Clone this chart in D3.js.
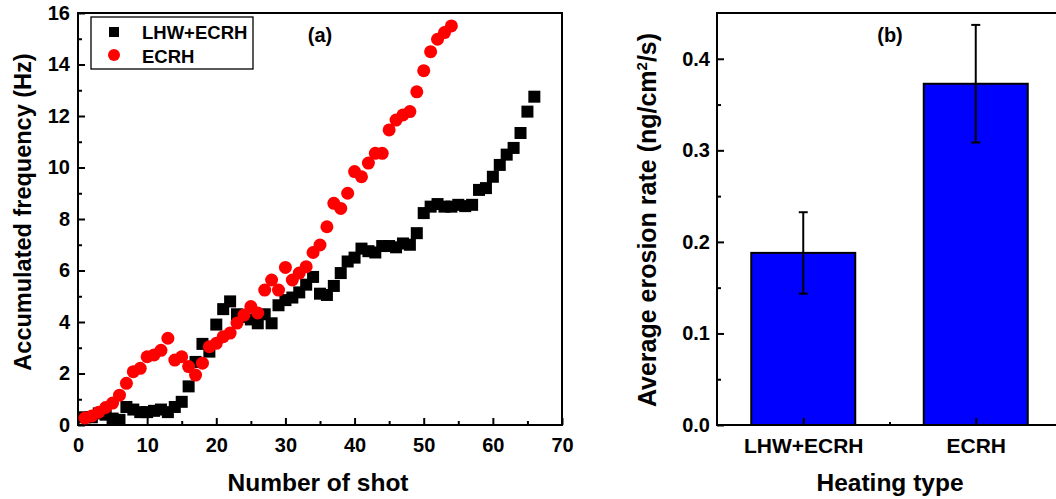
<!DOCTYPE html>
<html>
<head>
	<title>Accumulated frequency and erosion rate</title>
	<script src="https://cdnjs.cloudflare.com/ajax/libs/d3/7.8.5/d3.min.js"></script>
	<style>
		body { margin: 0; background: #fff; }
		text { font-family: Arial, "Liberation Sans", sans-serif; font-weight: bold; fill: #000; }
	</style>
</head>
<body>
	<svg id="chart" width="1056" height="499"></svg>
	<script type="text/javascript">
		// panel (a): accumulated frequency vs shot number
		const lhwEcrh = [0.3, 0.3, 0.45, 0.4, 0.25, 0.2, 0.7, 0.6, 0.5, 0.5,
			0.55, 0.6, 0.5, 0.7, 0.9, 1.5, 2.45, 3.15, 2.85, 3.9,
			4.5, 4.8, 4.3, 4.2, 4.1, 3.95, 4.3, 3.95, 4.65, 4.85,
			4.95, 5.15, 5.45, 5.75, 5.1, 5.05, 5.4, 5.9, 6.35, 6.5,
			6.85, 6.75, 6.7, 6.95, 6.95, 6.9, 7.05, 7.0, 7.45, 8.23,
			8.48, 8.58, 8.48, 8.48, 8.55, 8.5, 8.55, 9.13, 9.2, 9.64,
			10.1, 10.5, 10.76, 11.34, 12.17, 12.75];
		const ecrh = [0.27, 0.35, 0.5, 0.68, 0.85, 1.16, 1.62, 2.07, 2.2, 2.65,
			2.72, 2.9, 3.37, 2.52, 2.65, 2.27, 1.94, 2.4, 3.04, 3.17,
			3.43, 3.57, 3.96, 4.27, 4.6, 4.35, 5.24, 5.63, 5.24, 6.12,
			5.63, 5.9, 6.15, 6.7, 6.99, 7.7, 8.61, 8.41, 9.0, 9.84,
			9.64, 10.17, 10.55, 10.55, 11.46, 11.84, 12.04, 12.17, 12.94, 13.76,
			14.5, 14.98, 15.24, 15.5];
		const shotTicks = [0, 10, 20, 30, 40, 50, 60, 70];
		const freqTicks = [0, 2, 4, 6, 8, 10, 12, 14, 16];

		// panel (b): average erosion rate by heating type
		const heatingTypes = ["LHW+ECRH", "ECRH"];
		const erosionRate = [0.188, 0.3727];
		const erosionErrLow = [0.1435, 0.3085];
		const erosionErrHigh = [0.2324, 0.437];
		const rateTicks = [0.0, 0.1, 0.2, 0.3, 0.4];

		const svg = d3.select("#chart");
		const tickFont = "20px";
		const titleFont = "24.5px";

		// ---------- panel (a) ----------
		const xA = d3.scaleLinear().domain([0, 70]).range([78, 562]);
		const yA = d3.scaleLinear().domain([0, 16]).range([425, 13]);
		const gA = svg.append("g");

		gA.append("g").attr("transform", "translate(0,425)")
			.call(d3.axisBottom(xA).tickValues(d3.range(5, 70, 10)).tickSize(-4).tickFormat(""));
		gA.append("g").attr("transform", "translate(0,425)")
			.call(d3.axisBottom(xA).tickValues(shotTicks).tickSize(-7).tickPadding(13))
			.selectAll("text").style("font-size", tickFont);
		gA.append("g").attr("transform", "translate(78,0)")
			.call(d3.axisLeft(yA).tickValues(d3.range(1, 16, 2)).tickSize(-4).tickFormat(""));
		gA.append("g").attr("transform", "translate(78,0)")
			.call(d3.axisLeft(yA).tickValues(freqTicks).tickSize(-7).tickPadding(8))
			.selectAll("text").style("font-size", tickFont);
		gA.selectAll(".domain").remove();
		gA.selectAll(".tick line").attr("stroke", "#000").attr("stroke-width", 2);

		gA.append("rect")
			.attr("x", xA(0)).attr("y", yA(16))
			.attr("width", xA(70) - xA(0)).attr("height", yA(0) - yA(16))
			.attr("fill", "none").attr("stroke", "#000").attr("stroke-width", 2);

		gA.append("g").selectAll("rect").data(lhwEcrh).join("rect")
			.attr("x", (d, i) => xA(i + 1) - 6)
			.attr("y", d => yA(d) - 6)
			.attr("width", 12).attr("height", 12)
			.attr("fill", "#000");
		gA.append("g").selectAll("circle").data(ecrh).join("circle")
			.attr("cx", (d, i) => xA(i + 1))
			.attr("cy", d => yA(d))
			.attr("r", 6.5)
			.attr("fill", "#ff0000");

		// legend
		const leg = gA.append("g");
		leg.append("rect").attr("x", 91).attr("y", 17).attr("width", 162).attr("height", 52)
			.attr("fill", "#fff").attr("stroke", "#000").attr("stroke-width", 1.3);
		leg.append("rect").attr("x", 109).attr("y", 27).attr("width", 10).attr("height", 10).attr("fill", "#000");
		leg.append("circle").attr("cx", 114).attr("cy", 55).attr("r", 6).attr("fill", "#ff0000");
		leg.append("text").attr("x", 142).attr("y", 39).style("font-size", "18.5px").text("LHW+ECRH");
		leg.append("text").attr("x", 142).attr("y", 63).style("font-size", "18.5px").text("ECRH");

		gA.append("text").attr("x", 320).attr("y", 42).attr("text-anchor", "middle")
			.style("font-size", tickFont).text("(a)");
		gA.append("text").attr("x", 318).attr("y", 491).attr("text-anchor", "middle")
			.style("font-size", titleFont).text("Number of shot");
		gA.append("text").attr("transform", "translate(31,212) rotate(-90)").attr("text-anchor", "middle")
			.style("font-size", "23.5px").text("Accumulated frequency (Hz)");

		// ---------- panel (b) ----------
		const xB = d3.scalePoint().domain(heatingTypes).range([717, 1062]).padding(0.5);
		const yB = d3.scaleLinear().domain([0, 0.45]).range([425, 13]);
		const xMinor = d3.scaleLinear().domain([0.5, 2.5]).range([717, 1062]);
		const gB = svg.append("g");
		const barW = 104;

		gB.selectAll("rect.bar").data(erosionRate).join("rect")
			.attr("class", "bar")
			.attr("x", (d, i) => xB(heatingTypes[i]) - barW / 2)
			.attr("y", d => yB(d))
			.attr("width", barW)
			.attr("height", d => yB(0) - yB(d))
			.attr("fill", "#0000ff").attr("stroke", "#000").attr("stroke-width", 2);

		const err = gB.append("g").attr("stroke", "#000").attr("stroke-width", 2);
		heatingTypes.forEach((t, i) => {
			const cx = xB(t);
			err.append("line").attr("x1", cx).attr("x2", cx)
				.attr("y1", yB(erosionErrLow[i])).attr("y2", yB(erosionErrHigh[i]));
			err.append("line").attr("x1", cx - 4.5).attr("x2", cx + 4.5)
				.attr("y1", yB(erosionErrLow[i])).attr("y2", yB(erosionErrLow[i]));
			err.append("line").attr("x1", cx - 4.5).attr("x2", cx + 4.5)
				.attr("y1", yB(erosionErrHigh[i])).attr("y2", yB(erosionErrHigh[i]));
		});

		gB.append("g").attr("transform", "translate(0,425)")
			.call(d3.axisBottom(xMinor).tickValues([1.5]).tickSize(-3).tickFormat(""));
		gB.append("g").attr("transform", "translate(0,425)")
			.call(d3.axisBottom(xB).tickSize(-7).tickPadding(13))
			.selectAll("text").style("font-size", "21px");
		gB.append("g").attr("transform", "translate(717,0)")
			.call(d3.axisLeft(yB).tickValues([0.05, 0.15, 0.25, 0.35]).tickSize(-4).tickFormat(""));
		gB.append("g").attr("transform", "translate(717,0)")
			.call(d3.axisLeft(yB).tickValues(rateTicks).tickSize(-7).tickPadding(7).tickFormat(d3.format(".1f")))
			.selectAll("text").style("font-size", tickFont);
		gB.selectAll(".domain").remove();
		gB.selectAll(".tick line").attr("stroke", "#000").attr("stroke-width", 2);

		gB.append("rect")
			.attr("x", 717).attr("y", yB(0.45))
			.attr("width", 1062 - 717).attr("height", yB(0) - yB(0.45))
			.attr("fill", "none").attr("stroke", "#000").attr("stroke-width", 2);

		gB.append("text").attr("x", 890).attr("y", 42).attr("text-anchor", "middle")
			.style("font-size", tickFont).text("(b)");
		gB.append("text").attr("x", 890).attr("y", 491).attr("text-anchor", "middle")
			.style("font-size", titleFont).text("Heating type");
		const yLab = gB.append("text").attr("transform", "translate(656,220) rotate(-90)")
			.attr("text-anchor", "middle").style("font-size", "25px");
		yLab.append("tspan").text("Average erosion rate (ng/cm");
		yLab.append("tspan").attr("dy", -9).style("font-size", "15px").text("2");
		yLab.append("tspan").attr("dy", 9).text("/s)");
	</script>
</body>
</html>
